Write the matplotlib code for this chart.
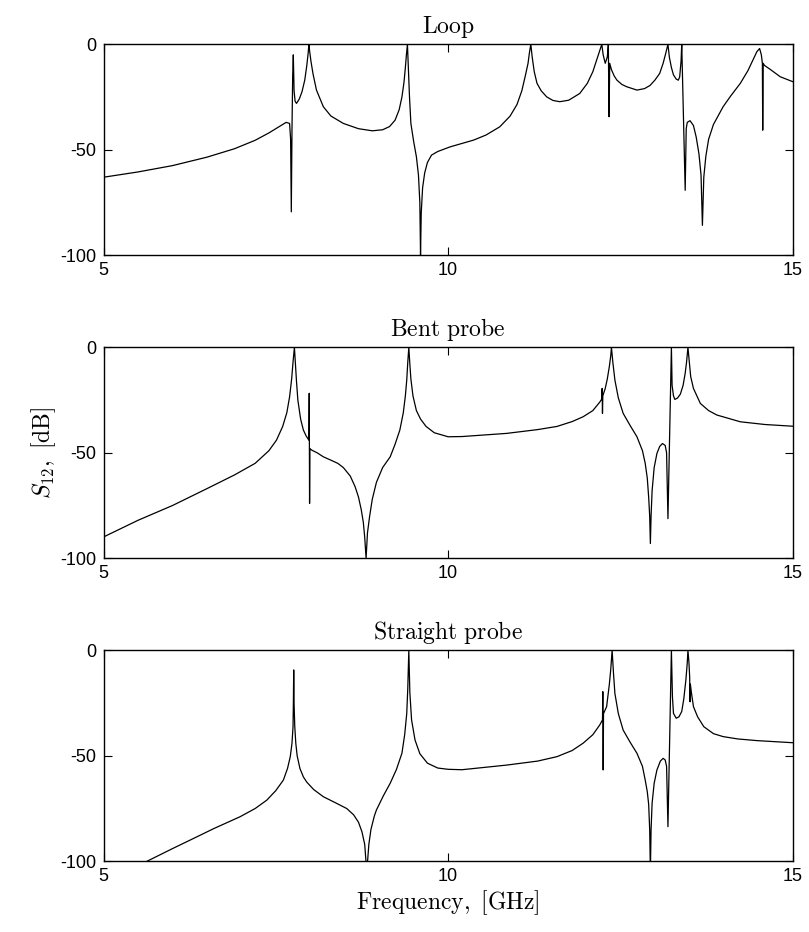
import matplotlib
matplotlib.use("Agg")
import matplotlib.pyplot as plt

plt.rcParams['font.family'] = ['Liberation Sans', 'DejaVu Sans']
plt.rcParams['mathtext.fontset'] = 'cm'
plt.rcParams['axes.unicode_minus'] = False

# ---------------- data ----------------
titles = ["Loop", "Bent probe", "Straight probe"]
x_ticks = [5, 10, 15]
y_ticks = [-100, -50, 0]

loop_f = [5.0, 5.5, 6.0, 6.5, 6.9, 7.2, 7.4, 7.55, 7.65, 7.70, 7.715, 7.725, 7.735, 7.745,
          7.754, 7.765, 7.78, 7.80, 7.84, 7.88, 7.92, 7.95, 7.97, 7.98, 7.99, 8.01, 8.04,
          8.09, 8.19, 8.3, 8.48, 8.7, 8.9, 9.05, 9.15, 9.23, 9.29, 9.33, 9.36, 9.38,
          9.395, 9.41, 9.425, 9.44, 9.46, 9.5, 9.54, 9.57, 9.59, 9.60, 9.61, 9.63, 9.66,
          9.70, 9.76, 9.85, 10.03, 10.2, 10.37, 10.55, 10.75, 10.9, 11.0, 11.07, 11.12,
          11.16, 11.18, 11.2, 11.22, 11.25, 11.29, 11.35, 11.43, 11.52, 11.62, 11.75,
          11.91, 12.02, 12.1, 12.16, 12.2, 12.23, 12.25, 12.28, 12.31, 12.325, 12.335,
          12.345, 12.37, 12.41, 12.45, 12.52, 12.59, 12.74, 12.85, 12.93, 13.0, 13.07,
          13.12, 13.16, 13.19, 13.21, 13.24, 13.27, 13.31, 13.34, 13.36, 13.38, 13.39,
          13.44, 13.455, 13.47, 13.51, 13.56, 13.6, 13.64, 13.67, 13.69, 13.71, 13.74,
          13.78, 13.85, 13.99, 14.1, 14.24, 14.35, 14.43, 14.48, 14.52, 14.545, 14.56,
          14.565, 14.572, 14.59, 14.67, 14.82, 15.0]
loop_db = [-63, -60.5, -57.5, -53.5, -49.5, -45.5, -42, -39, -37, -37.5, -45, -79.4, -40, -15,
           -5, -22, -27, -28, -26, -22.5, -17, -10, -4, 0, -3, -8, -14,
           -21.7, -29.6, -34, -37.5, -40, -41, -40.5, -39, -36, -31, -25, -18, -11,
           -5, 0, -12, -25, -37.5, -46, -53.3, -62, -75, -100, -80, -68, -61,
           -56, -52.5, -50.8, -48.6, -47, -45.4, -43, -39.1, -34, -28.5, -22, -15,
           -9, -4, 0, -6, -13, -18.5, -22, -24.9, -26.6, -27.2, -26.5,
           -23.3, -18.5, -13, -7, -3, 0, -5, -9, -6, 0, -34.3,
           -9, -12, -15, -17, -19, -20.1, -21.7, -21, -19.5, -17, -13.8,
           -9, -4, 0, -6, -11, -14.5, -16.5, -17, -15.5, -8, 0,
           -69.2, -40, -37, -36.2, -38.5, -44, -52, -62, -85.8, -63, -53,
           -45, -38, -29.6, -24.5, -18.5, -12.5, -7, -3.5, -2, -5, -9,
           -40.7, -9, -10, -11.8, -15.4, -17.7]

bent_f = [5.0, 5.5, 6.0, 6.5, 6.9, 7.2, 7.4, 7.51, 7.6, 7.66, 7.70, 7.73, 7.75, 7.77,
          7.785, 7.80, 7.82, 7.86, 7.90, 7.94, 7.98, 7.985, 7.99, 7.995, 8.02, 8.1, 8.19,
          8.3, 8.4, 8.48, 8.58, 8.65, 8.7, 8.74, 8.77, 8.79, 8.81, 8.83, 8.86, 8.9, 8.96,
          9.05, 9.16, 9.23, 9.3, 9.35, 9.38, 9.40, 9.415, 9.43, 9.445, 9.46, 9.49, 9.54,
          9.6, 9.68, 9.8, 10.0, 10.2, 10.85, 11.3, 11.58, 11.8, 11.96, 12.1, 12.2, 12.23,
          12.235, 12.24, 12.245, 12.28, 12.31, 12.34, 12.36, 12.37, 12.39, 12.42, 12.47,
          12.54, 12.64, 12.74, 12.82, 12.86, 12.89, 12.91, 12.925, 12.935, 12.945, 12.96,
          12.99, 13.03, 13.07, 13.11, 13.15, 13.17, 13.19, 13.24, 13.25, 13.27, 13.29,
          13.33, 13.37, 13.41, 13.44, 13.46, 13.48, 13.50, 13.52, 13.56, 13.66, 13.78,
          13.90, 14.24, 14.6, 15.0]
bent_db = [-89.9, -82, -75, -67, -60.5, -55, -49, -44, -37.5, -31, -23.5, -15, -7, 0,
           -8, -16, -25, -34, -39.2, -42, -44, -21.8, -74, -48, -48.7, -50, -51.9,
           -53.5, -55, -57, -61, -66, -71, -77, -83, -90, -100, -88, -80.4, -72, -64,
           -57, -51.9, -46, -39.2, -31, -23, -15.5, -7, 0, -8, -15, -23, -30,
           -34, -37.5, -40.5, -42.4, -42.3, -40.8, -39, -37.5, -35.2, -32.9, -30, -26, -24.5,
           -19.5, -31.3, -23, -19.5, -15, -9, -4, 0, -7, -15.5, -24,
           -31.3, -37, -42.4, -49, -55, -62, -71, -80, -93, -80, -68,
           -57, -50.3, -47, -45.6, -46.5, -50, -81.2, 0, -18, -23, -24.7,
           -24, -22.2, -18, -12.3, -7, 0, -7, -13.9, -19.5, -26.6, -30,
           -32.1, -35.3, -36.6, -37.4]

straight_f = [5.0, 5.63, 6.0, 6.26, 6.6, 6.98, 7.2, 7.37, 7.5, 7.61, 7.67, 7.71, 7.735,
              7.75, 7.755, 7.76, 7.765, 7.775, 7.79, 7.81, 7.85, 7.9, 7.95, 8.05, 8.19,
              8.35, 8.53, 8.63, 8.7, 8.75, 8.79, 8.82, 8.85, 8.88, 8.93, 8.96, 9.06, 9.16,
              9.25, 9.33, 9.37, 9.40, 9.415, 9.43, 9.445, 9.47, 9.52, 9.59, 9.7, 9.85,
              10.0, 10.2, 10.85, 11.3, 11.58, 11.8, 11.96, 12.1, 12.2, 12.24, 12.245,
              12.25, 12.255, 12.3, 12.34, 12.36, 12.38, 12.40, 12.42, 12.47, 12.54, 12.64,
              12.74, 12.82, 12.86, 12.89, 12.91, 12.925, 12.935, 12.945, 12.96, 12.99,
              13.03, 13.08, 13.12, 13.15, 13.17, 13.19, 13.24, 13.255, 13.27, 13.31,
              13.35, 13.39, 13.42, 13.45, 13.47, 13.48, 13.495, 13.505, 13.51, 13.515,
              13.53, 13.56, 13.62, 13.71, 13.85, 13.99, 14.2, 14.48, 15.0]
straight_db = [-110, -100, -94, -89.9, -84.5, -78.9, -75, -71, -66.5, -61.5, -56, -50.4, -44,
               -36.2, -25, -9.3, -25, -36, -44, -50, -56, -60, -62.5, -66, -69.4,
               -72, -75, -78, -81.5, -86, -92, -105, -92, -85, -78.5, -75.7, -69, -63,
               -56.5, -48.8, -40, -29.9, -18, 0, -20, -33, -42.5, -49, -53.5, -55.8,
               -56.4, -56.6, -54.4, -52.5, -50.4, -47.5, -44, -40, -35.4, -33, -19.6,
               -56.7, -30, -26.7, -16, -9, 0, -11, -20.4, -30, -37.8, -43.5,
               -48.8, -55, -61.5, -67, -73, -85, -105, -85, -72.5, -63,
               -56.7, -52.5, -51.2, -52, -55, -83.6, 0, -22, -29.9, -32.2,
               -31.5, -29, -23, -14.1, -6, 0, -6, -12.5, -24.4, -16,
               -20, -26.7, -31.5, -36.2, -39.5, -40.9, -42, -42.8, -43.8]

series = [(loop_f, loop_db), (bent_f, bent_db), (straight_f, straight_db)]

# ---------------- layout ----------------
W, H = 809, 932
fig = plt.figure(figsize=(W / 100, H / 100), dpi=100)
left = 103.5 / W
width = 689.2 / W
tops = [44.3, 347.3, 650.3]
hpx = 211.0

axes = []
for i, (top, (f, db)) in enumerate(zip(tops, series)):
    ax = fig.add_axes([left, 1 - (top + hpx) / H, width, hpx / H])
    ax.plot(f, db, color='black', lw=0.9)
    ax.set_xlim(5, 15)
    ax.set_ylim(-100, 0)
    ax.set_xticks(x_ticks)
    ax.set_yticks(y_ticks)
    ax.set_xticklabels([str(t) for t in x_ticks])
    ax.set_yticklabels([str(t) for t in y_ticks])
    ax.tick_params(direction='in', length=6, width=0.8, top=True, right=True,
                   labelsize=13, pad=5)
    for s in ax.spines.values():
        s.set_linewidth(1.0)
    ax.set_title(r'$\mathrm{' + titles[i].replace(' ', r'\ ') + '}$', fontsize=17, pad=8)
    axes.append(ax)

axes[1].set_ylabel(r'$S_{12},\ [\mathrm{dB}]$', fontsize=17, labelpad=2)
axes[2].set_xlabel(r'$\mathrm{Frequency,\ [GHz]}$', fontsize=17, labelpad=2)

fig.savefig('out.png', dpi=100)
